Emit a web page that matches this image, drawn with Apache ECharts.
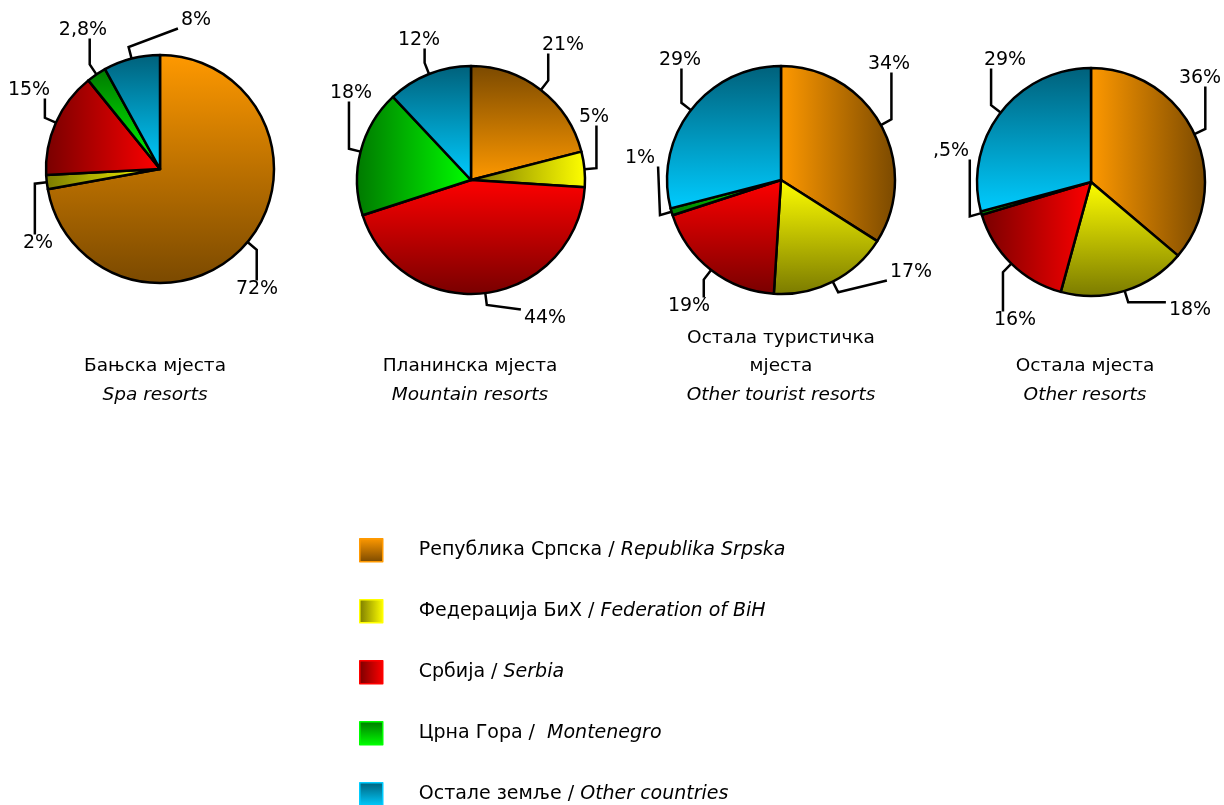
<!DOCTYPE html>
<html>
<head>
<meta charset="utf-8">
<script src="https://cdn.jsdelivr.net/npm/echarts@6/dist/echarts.min.js"></script>
<style>
    html, body { margin: 0; padding: 0; background: #fff; }
    #chart { width: 1224px; height: 805px; }
</style>
</head>
<body>
<div id="chart"></div>
<script>
// категорије (земље поријекла)
const categories = ['Република Српска', 'Федерација БиХ', 'Србија', 'Црна Гора', 'Остале земље']
const categoriesEn = ['Republika Srpska', 'Federation of BiH', 'Serbia', ' Montenegro', 'Other countries']

// учешће по врсти мјеста, %
const spaValues = [72, 2, 15, 2.8, 8]
const mountainValues = [21, 5, 44, 18, 12]
const touristValues = [34, 17, 19, 1, 29]
const otherValues = [36, 18, 16, 0.5, 29]

const pieTitles = ['Бањска мјеста', 'Планинска мјеста', 'Остала туристичка\nмјеста', 'Остала мјеста']
const pieSubtitles = ['Spa resorts', 'Mountain resorts', 'Other tourist resorts', 'Other resorts']

const FONT = 'DejaVu Sans'

// [svijetla, tamna]
const palette = [
    ['#FF9900', '#7A4900'],
    ['#FFFF00', '#7A7A00'],
    ['#FF0000', '#780000'],
    ['#00FF00', '#007800'],
    ['#00CCFF', '#00607A'],
]
// smjer prelaza po isječku
const pieDirs = [
    ['tb', 'rl', 'rl', 'bt', 'bt'],
    ['bt', 'rl', 'tb', 'rl', 'bt'],
    ['lr', 'tb', 'tb', 'rl', 'bt'],
    ['lr', 'tb', 'rl', 'rl', 'bt'],
]
const legendDirs = ['tb', 'rl', 'rl', 'bt', 'bt']

// raspored: centri, poluprečnik, pomaci natpisa u odnosu na centar
const pieCenters = [[160, 169], [471, 180], [781, 180], [1091, 182]]
const pieRadius = 114
const labelOffsets = [
    [[97, 120], [-122, 74], [-131, -79], [-77, -139], [36, -149]],
    [[92, -135], [123, -63], [74, 138], [-120, -87], [-52, -140]],
    [[108, -116], [130, 92], [-92, 126], [-141, -22], [-101, -120]],
    [[109, -104], [99, 128], [-76, 138], [-140, -31], [-86, -122]],
]
const titleTops = [352, 352, 324, 352]
const titleX = [155, 470, 781, 1085]

function grad(dir, c) {
    let light = c[0], dark = c[1]
    let xy = { tb: [0, 0, 0, 1], bt: [0, 1, 0, 0], lr: [0, 0, 1, 0], rl: [1, 0, 0, 0] }[dir]
    return new echarts.graphic.LinearGradient(xy[0], xy[1], xy[2], xy[3], [
        { offset: 0, color: light },
        { offset: 1, color: dark },
    ])
}

function fmt(v) {
    return String(v).replace('.', ',').replace(/^0,/, ',') + '%'
}

function placeLabel(idx, params) {
    let c = pieCenters[idx]
    let off = labelOffsets[idx][params.dataIndex]
    let lx = c[0] + off[0], ly = c[1] + off[1]
    let w = params.labelRect.width, h = params.labelRect.height
    let edge = params.labelLinePoints ? params.labelLinePoints[0] : null
    if (!edge) {
        return { x: lx, y: ly, align: 'center', verticalAlign: 'middle' }
    }
    let dx = edge[0] - c[0], dy = edge[1] - c[1]
    let len = Math.sqrt(dx * dx + dy * dy) || 1
    let bend = [edge[0] + (dx / len) * 12, edge[1] + (dy / len) * 12]
    // najbliža tačka okvira natpisa
    let x0 = lx - w / 2 - 3, x1 = lx + w / 2 + 3
    let y0 = ly - h / 2 + 1, y1 = ly + h / 2 - 1
    let end = [Math.min(Math.max(bend[0], x0), x1), Math.min(Math.max(bend[1], y0), y1)]
    return {
        x: lx,
        y: ly,
        align: 'center',
        verticalAlign: 'middle',
        labelLinePoints: [edge, bend, end],
    }
}

function buildPie(values, idx) {
    return {
        type: 'pie',
        center: pieCenters[idx],
        radius: pieRadius,
        startAngle: 90,
        clockwise: true,
        avoidLabelOverlap: false,
        animation: false,
        itemStyle: { borderColor: '#000', borderWidth: 2.5 },
        label: {
            show: true,
            color: '#000',
            fontFamily: FONT,
            fontSize: 19,
            overflow: 'none',
            formatter: (p) => fmt(p.value),
        },
        labelLine: {
            show: true,
            length: 12,
            length2: 8,
            smooth: false,
            lineStyle: { color: '#000', width: 2.5 },
        },
        labelLayout: (params) => placeLabel(idx, params),
        emphasis: { scale: false },
        data: values.map((v, i) => ({
            name: categories[i],
            value: v,
            itemStyle: { color: grad(pieDirs[idx][i], palette[i]) },
        })),
    }
}

let option = {
    backgroundColor: '#fff',
    title: pieTitles.map((t, i) => ({
        text: t,
        subtext: pieSubtitles[i],
        left: titleX[i],
        top: titleTops[i],
        textAlign: 'center',
        itemGap: 1,
        padding: 0,
        textStyle: { fontFamily: FONT, fontSize: 18.5, fontWeight: 'normal', color: '#000', lineHeight: 28 },
        subtextStyle: { fontFamily: FONT, fontSize: 18.5, fontStyle: 'italic', color: '#000', lineHeight: 28 },
    })),
    legend: {
        orient: 'vertical',
        left: 359,
        top: 538,
        height: 280,
        padding: 0,
        itemWidth: 23,
        itemHeight: 23,
        itemGap: 36.5,
        icon: 'rect',
        selectedMode: false,
        data: categories.map((c, i) => ({
            name: c,
            itemStyle: { color: grad(legendDirs[i], palette[i]), borderColor: palette[i][0], borderWidth: 1.5 },
        })),
        formatter: (name) => {
            let i = categories.indexOf(name)
            return '{a|' + name + ' / }{b|' + categoriesEn[i] + '}'
        },
        textStyle: {
            rich: {
                a: { fontFamily: FONT, fontSize: 19, color: '#000', lineHeight: 23, padding: [0, 0, 0, 31] },
                b: { fontFamily: FONT, fontSize: 19, color: '#000', lineHeight: 23, fontStyle: 'italic' },
            },
        },
    },
    series: [spaValues, mountainValues, touristValues, otherValues].map((v, i) => buildPie(v, i)),
}

let myChart = echarts.init(document.getElementById('chart'))
myChart.setOption(option)
</script>
</body>
</html>
